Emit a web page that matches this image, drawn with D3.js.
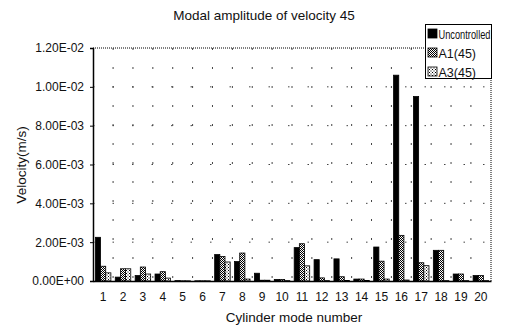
<!DOCTYPE html>
<html><head><meta charset="utf-8">
<script src="https://cdn.jsdelivr.net/npm/d3@7"></script>
<style>
body{margin:0;background:#fff;}
text{font-family:"Liberation Sans",Arial,sans-serif;fill:#111;}
</style></head>
<body>
<svg id="chart" width="522" height="330"></svg>
<script>
const categories = ["1","2","3","4","5","6","7","8","9","10","11","12","13","14","15","16","17","18","19","20"];
const seriesNames = ["Uncontrolled","A1(45)","A3(45)"];
const uncontrolled = [2.25e-3,2.0e-4,2.8e-4,3.6e-4,2e-5,1e-5,1.36e-3,1.0e-3,4.0e-4,8e-5,1.72e-3,1.1e-3,1.14e-3,1.0e-4,1.75e-3,1.06e-2,9.5e-3,1.58e-3,3.6e-4,2.8e-4];
const a1 = [7.6e-4,6.3e-4,7.2e-4,4.8e-4,1e-5,1e-5,1.26e-3,1.44e-3,4e-5,8e-5,1.92e-3,1.6e-4,2.2e-4,1.0e-4,1.02e-3,2.35e-3,9.4e-4,1.58e-3,3.6e-4,2.8e-4];
const a3 = [4.2e-4,6.3e-4,3.6e-4,1.5e-4,1e-5,1e-5,9.8e-4,1.0e-4,4e-5,2e-5,7.8e-4,2e-5,3e-5,3e-5,1.0e-4,5e-5,7.9e-4,2e-5,2e-5,2e-5];
const yTicks = [0,2e-3,4e-3,6e-3,8e-3,1e-2,1.2e-2];
const yTickLabels = ["0.00E+00","2.00E-03","4.00E-03","6.00E-03","8.00E-03","1.00E-02","1.20E-02"];

const series = [uncontrolled, a1, a3];
const svg = d3.select("#chart");
const m = {l:93, r:491, t:48, b:281};

// patterns
const defs = svg.append("defs");
const p1 = defs.append("pattern").attr("id","pA1").attr("patternUnits","userSpaceOnUse").attr("width",2).attr("height",2);
p1.append("rect").attr("width",2).attr("height",2).attr("fill","#fff");
p1.append("rect").attr("width",1).attr("height",1).attr("fill","#000");
p1.append("rect").attr("x",1).attr("y",1).attr("width",1).attr("height",1).attr("fill","#000");
const p3 = defs.append("pattern").attr("id","pA3").attr("patternUnits","userSpaceOnUse").attr("width",3).attr("height",3);
p3.append("rect").attr("width",3).attr("height",3).attr("fill","#fff");
p3.append("rect").attr("width",1).attr("height",1).attr("fill","#000");
p3.append("rect").attr("x",1.5).attr("y",1.5).attr("width",1).attr("height",1).attr("fill","#000");
const fills = ["#000","url(#pA1)","url(#pA3)"];

const x = d3.scaleBand().domain(categories).range([m.l, m.r]).paddingInner(0.22).paddingOuter(0.12);
const xs = d3.scaleBand().domain(seriesNames).range([0, x.bandwidth()]);
const y = d3.scaleLinear().domain([0, 1.2e-2]).range([m.b, m.t]);

// gridlines (sparse dotted)
svg.append("g").selectAll("line").data(yTicks.slice(1,6)).join("line")
  .attr("x1", m.l).attr("x2", m.r).attr("y1", d=>y(d)).attr("y2", d=>y(d))
  .attr("stroke","#444").attr("stroke-width",1).attr("stroke-dasharray","1.5,18");
svg.append("g").selectAll("line").data(categories.slice(1)).join("line")
  .attr("x1", d=>x(d)-x.step()*x.paddingInner()/2).attr("x2", d=>x(d)-x.step()*x.paddingInner()/2)
  .attr("y1", m.t).attr("y2", m.b)
  .attr("stroke","#444").attr("stroke-width",1).attr("stroke-dasharray","2,17");

// top and right dotted border
svg.append("line").attr("x1",m.l).attr("x2",m.r).attr("y1",m.t).attr("y2",m.t)
  .attr("stroke","#000").attr("stroke-dasharray","1,1");
svg.append("line").attr("x1",m.r).attr("x2",m.r).attr("y1",m.t).attr("y2",m.b)
  .attr("stroke","#000").attr("stroke-dasharray","1,1");

// bars
series.forEach((vals, si) => {
  svg.append("g").selectAll("rect").data(vals).join("rect")
    .attr("x", (d,i)=>x(categories[i]) + xs(seriesNames[si]))
    .attr("y", d=>y(d))
    .attr("width", xs.bandwidth())
    .attr("height", d=>m.b - y(d))
    .attr("fill", fills[si])
    .attr("stroke", "#000").attr("stroke-width", 0.8);
});

// axes
const yAxis = d3.axisLeft(y).tickValues(yTicks).tickFormat((d,i)=>yTickLabels[i]).tickSize(3).tickPadding(6);
const gy = svg.append("g").attr("transform",`translate(${m.l},0)`).call(yAxis);
gy.select(".domain").attr("stroke","#000").attr("stroke-width",1.5);
gy.selectAll("text").attr("font-size",12).attr("font-family","Liberation Sans, Arial, sans-serif");

const xAxis = d3.axisBottom(x).tickSize(0).tickPadding(11);
const gx = svg.append("g").attr("transform",`translate(0,${m.b})`).call(xAxis);
gx.select(".domain").attr("stroke","#000").attr("stroke-width",1.5);
gx.selectAll("text").attr("font-size",12).attr("font-family","Liberation Sans, Arial, sans-serif");

// titles
svg.append("text").attr("x",264).attr("y",20).attr("text-anchor","middle").attr("font-size",13.5).text("Modal amplitude of velocity 45");
svg.append("text").attr("x",294).attr("y",322).attr("text-anchor","middle").attr("font-size",13.5).text("Cylinder mode number");
svg.append("text").attr("transform","translate(26,165) rotate(-90)").attr("text-anchor","middle").attr("font-size",13.5).text("Velocity(m/s)");

// legend
const lg = svg.append("g");
lg.append("rect").attr("x",425.5).attr("y",24.5).attr("width",66).attr("height",54).attr("fill","#fff").attr("stroke","#000").attr("stroke-width",1);
seriesNames.forEach((n,i)=>{
  const yy = 34 + i*19;
  lg.append("rect").attr("x",428).attr("y",yy-5).attr("width",9).attr("height",9).attr("fill",fills[i]).attr("stroke","#000").attr("stroke-width",0.8);
  const t = lg.append("text").attr("x",438.5).attr("y",yy+4.5).attr("font-size",12.5).text(n);
  if (i === 0) t.attr("textLength",52).attr("lengthAdjust","spacingAndGlyphs");
});
</script>
</body></html>
